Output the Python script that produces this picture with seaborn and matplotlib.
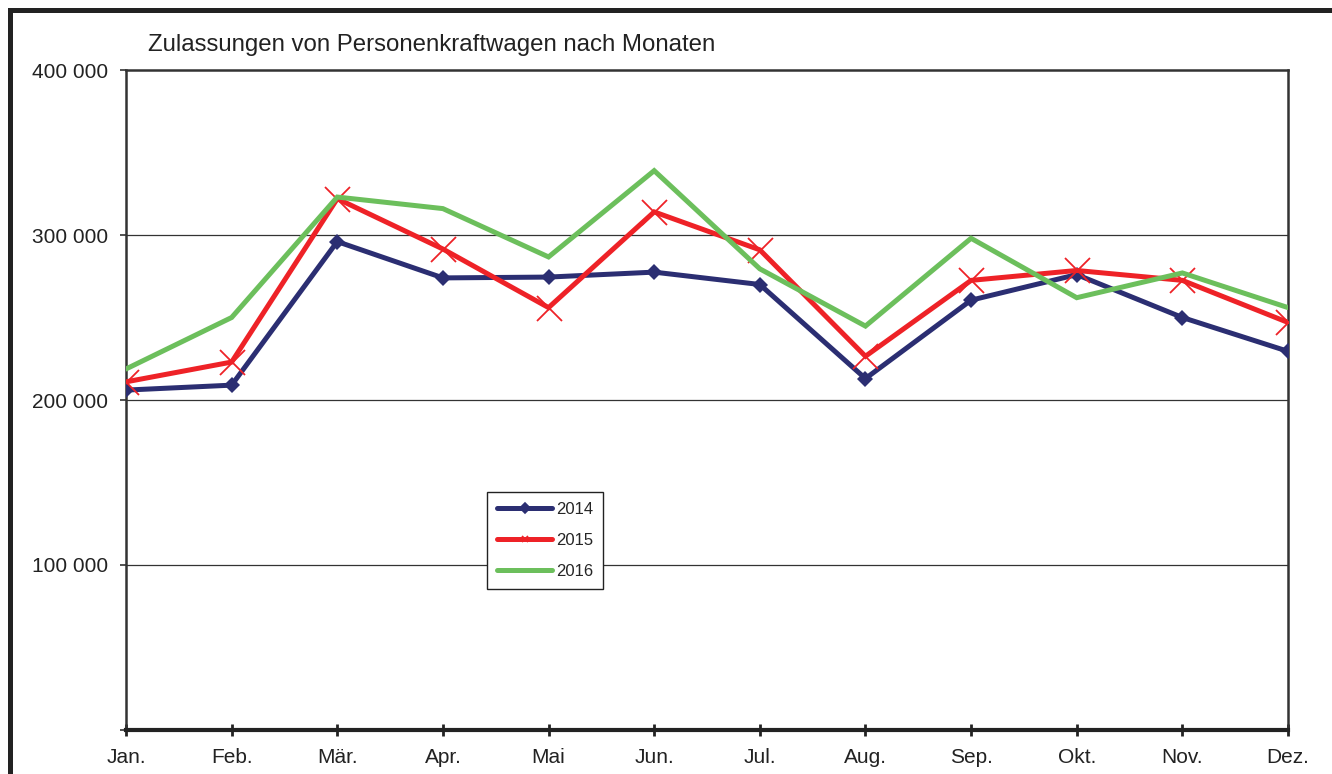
import matplotlib
matplotlib.use("Agg")
import matplotlib.pyplot as plt
from matplotlib.lines import Line2D
from matplotlib.patches import Rectangle
import seaborn as sns
import pandas as pd

months = ["Jan.", "Feb.", "Mär.", "Apr.", "Mai", "Jun.", "Jul.", "Aug.", "Sep.", "Okt.", "Nov.", "Dez."]
y2014 = [206000, 209000, 296000, 274000, 274500, 277500, 270000, 213000, 260500, 276000, 250000, 229500]
y2015 = [211000, 223000, 322000, 291500, 256000, 314000, 291000, 226500, 272500, 278500, 272500, 247000]
y2016 = [218800, 250000, 323000, 316000, 286700, 339000, 279500, 244800, 298000, 262000, 277000, 256000]
years = ["2014", "2015", "2016"]
yticks = [0, 100000, 200000, 300000, 400000]
ytick_labels = ["", "100 000", "200 000", "300 000", "400 000"]
title = "Zulassungen von Personenkraftwagen nach Monaten"

df = pd.DataFrame({
    "pos": list(range(12)) * 3,
    "wert": y2014 + y2015 + y2016,
    "jahr": [y for y in years for _ in range(12)],
})

sns.set_theme(style="white")
plt.rcParams["font.family"] = ["Liberation Sans", "DejaVu Sans"]

W, H = 1332, 774
fig = plt.figure(figsize=(W / 100, H / 100), dpi=100)
ax = fig.add_axes([126 / W, 1 - 730 / H, (1288 - 126) / W, (730 - 70) / H])

styles = {
    "2014": dict(color="#2B2E72", marker="D", markersize=8, mew=0, lw=3.6),
    "2015": dict(color="#EE2227", marker="x", markersize=18, mew=1.3, lw=3.6),
    "2016": dict(color="#6CBF5C", marker=None, markersize=0, mew=0, lw=3.6),
}

for yr in years:
    st = styles[yr]
    sub = df[df["jahr"] == yr]
    sns.lineplot(data=sub, x="pos", y="wert", ax=ax, color=st["color"],
                 linewidth=st["lw"], marker=st["marker"], markersize=st["markersize"],
                 markeredgewidth=st["mew"], markeredgecolor=st["color"],
                 solid_joinstyle="miter", zorder=3, legend=False)

ax.set_xlim(0, 11)
ax.set_ylim(0, 400000)
ax.set_xticks(range(12))
ax.set_xticklabels(months, fontsize=15, color="#222222")
ax.set_yticks(yticks)
ax.set_yticklabels(ytick_labels, fontsize=15, color="#222222")
ax.set_xlabel("")
ax.set_ylabel("")

for v in [100000, 200000, 300000]:
    ax.axhline(v, color="#333333", lw=0.9, zorder=1)

for side in ["left", "right", "top"]:
    ax.spines[side].set_color("#333333")
    ax.spines[side].set_linewidth(1.8)
ax.spines["bottom"].set_color("#222222")
ax.spines["bottom"].set_linewidth(3)

ax.tick_params(axis="y", direction="out", length=4.3, width=1.2, color="#333333", pad=8.6, left=True)
ax.tick_params(axis="x", direction="inout", length=8.6, width=2, color="#222222", pad=9, bottom=True)

handles = []
for yr in years:
    st = styles[yr]
    handles.append(Line2D([], [], color=st["color"], lw=3.6,
                          marker=st["marker"] if st["marker"] else None,
                          markersize=5 if st["marker"] else 0,
                          markeredgewidth=1.2, markeredgecolor=st["color"],
                          solid_capstyle="round"))
leg = ax.legend(handles, years, loc="upper left",
                bbox_to_anchor=(487 / W, 1 - 492 / H), bbox_transform=fig.transFigure,
                frameon=True, fancybox=False, shadow=False, fontsize=12,
                handlelength=3.3, handletextpad=0.2, labelspacing=0.95,
                borderpad=0.62, borderaxespad=0)
leg.get_frame().set_edgecolor("#222222")
leg.get_frame().set_linewidth(1.0)
leg.get_frame().set_facecolor("white")
leg.get_frame().set_alpha(1)
leg.set_zorder(5)

fig.text(148 / W, 1 - 51 / H, title, fontsize=17.3, color="#222222", ha="left", va="baseline")

# outer frame around the whole figure
fig.patches.append(Rectangle((9.5 / W, -0.1), 1.2, 1 - 9.5 / H + 0.1,
                             transform=fig.transFigure, fill=False,
                             edgecolor="#222222", linewidth=3.6, zorder=10))

fig.savefig("out.png", dpi=100)
